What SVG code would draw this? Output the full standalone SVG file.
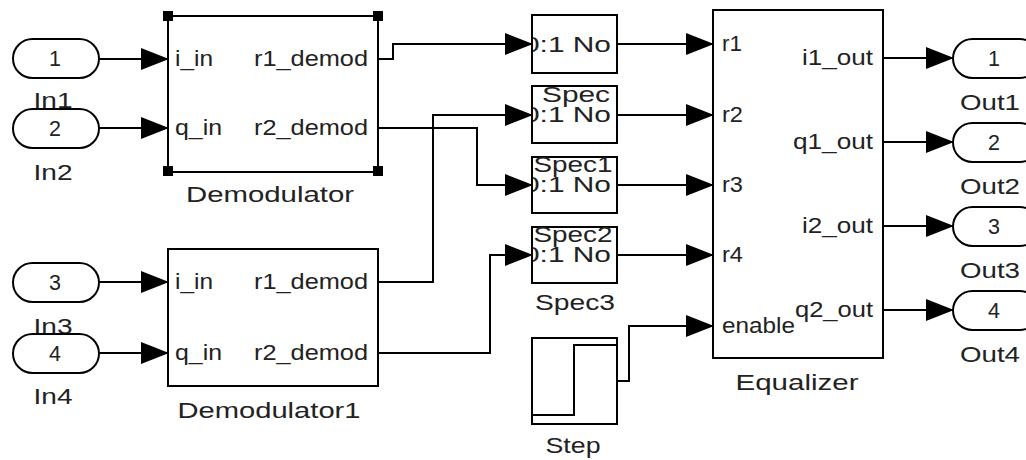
<svg xmlns="http://www.w3.org/2000/svg" width="1026" height="460" viewBox="0 0 1026 460">
<style>
.bx{fill:#fff;stroke:#000;stroke-width:2}
.ov{fill:#fff;stroke:#000;stroke-width:2}
.w{fill:none;stroke:#000;stroke-width:2}
.t{font-family:"Liberation Sans",Arial,sans-serif;font-size:21.5px;fill:#222}
.m{text-anchor:middle}
.e{text-anchor:end}
.h{fill:#000}
</style>
<defs>
<marker id="arr" markerUnits="userSpaceOnUse" markerWidth="28" markerHeight="22" viewBox="0 0 28 22" refX="27" refY="11" orient="auto">
<path d="M0,0 L28,11 L0,22 z" fill="#000"/>
</marker>
<clipPath id="c1"><rect x="533" y="16" width="83" height="56"/></clipPath>
<clipPath id="c2"><rect x="533" y="87" width="83" height="55"/></clipPath>
<clipPath id="c3"><rect x="533" y="158" width="83" height="54"/></clipPath>
<clipPath id="c4"><rect x="533" y="228" width="83" height="54"/></clipPath>
</defs>

<g id="connectors">
<path class="w" d="M99,59 H168" marker-end="url(#arr)"/>
<path class="w" d="M99,128 H168" marker-end="url(#arr)"/>
<path class="w" d="M99,282 H168" marker-end="url(#arr)"/>
<path class="w" d="M99,353 H168" marker-end="url(#arr)"/>
<path class="w" d="M378,59 H393 V44 H532" marker-end="url(#arr)"/>
<path class="w" d="M378,128 H477 V185 H532" marker-end="url(#arr)"/>
<path class="w" d="M378,282 H433 V115 H532" marker-end="url(#arr)"/>
<path class="w" d="M378,353 H490 V255 H532" marker-end="url(#arr)"/>
<path class="w" d="M617,44 H713" marker-end="url(#arr)"/>
<path class="w" d="M617,115 H713" marker-end="url(#arr)"/>
<path class="w" d="M617,185 H713" marker-end="url(#arr)"/>
<path class="w" d="M617,255 H713" marker-end="url(#arr)"/>
<path class="w" d="M617,381 H629 V326 H713" marker-end="url(#arr)"/>
<path class="w" d="M883,58 H953" marker-end="url(#arr)"/>
<path class="w" d="M883,142 H953" marker-end="url(#arr)"/>
<path class="w" d="M883,226 H953" marker-end="url(#arr)"/>
<path class="w" d="M883,310 H953" marker-end="url(#arr)"/>
</g>

<g id="In1">
<rect class="ov" x="13" y="39" width="86" height="39" rx="19.5"/>
<text class="t m" x="55" y="66">1</text>
<text class="t m" x="53" y="108" textLength="39" lengthAdjust="spacingAndGlyphs">In1</text>
</g>
<g id="In2">
<rect class="ov" x="13" y="109" width="86" height="39" rx="19.5"/>
<text class="t m" x="55" y="136">2</text>
<text class="t m" x="53" y="180" textLength="39" lengthAdjust="spacingAndGlyphs">In2</text>
</g>
<g id="In3">
<rect class="ov" x="13" y="263" width="86" height="39" rx="19.5"/>
<text class="t m" x="55" y="290">3</text>
<text class="t m" x="53" y="334" textLength="39" lengthAdjust="spacingAndGlyphs">In3</text>
</g>
<g id="In4">
<rect class="ov" x="13" y="334" width="86" height="39" rx="19.5"/>
<text class="t m" x="55" y="361">4</text>
<text class="t m" x="53" y="404" textLength="39" lengthAdjust="spacingAndGlyphs">In4</text>
</g>

<g id="Demodulator">
<rect class="bx" x="168" y="16" width="210" height="156"/>
<rect class="h" x="163" y="11" width="10" height="10"/>
<rect class="h" x="373" y="11" width="10" height="10"/>
<rect class="h" x="163" y="166" width="10" height="10"/>
<rect class="h" x="373" y="166" width="10" height="10"/>
<text class="t" x="175" y="66" textLength="38" lengthAdjust="spacingAndGlyphs">i_in</text>
<text class="t" x="175" y="135" textLength="47" lengthAdjust="spacingAndGlyphs">q_in</text>
<text class="t e" x="368" y="66" textLength="114" lengthAdjust="spacingAndGlyphs">r1_demod</text>
<text class="t e" x="368" y="135" textLength="114" lengthAdjust="spacingAndGlyphs">r2_demod</text>
<text class="t m" x="270" y="202" textLength="168" lengthAdjust="spacingAndGlyphs">Demodulator</text>
</g>

<g id="Demodulator1">
<rect class="bx" x="168" y="249" width="210" height="137"/>
<text class="t" x="175" y="289" textLength="38" lengthAdjust="spacingAndGlyphs">i_in</text>
<text class="t" x="175" y="360" textLength="47" lengthAdjust="spacingAndGlyphs">q_in</text>
<text class="t e" x="368" y="289" textLength="114" lengthAdjust="spacingAndGlyphs">r1_demod</text>
<text class="t e" x="368" y="360" textLength="114" lengthAdjust="spacingAndGlyphs">r2_demod</text>
<text class="t m" x="269" y="418" textLength="183" lengthAdjust="spacingAndGlyphs">Demodulator1</text>
</g>

<g id="Spec">
<rect class="bx" x="532" y="15" width="85" height="58"/>
<text class="t" x="523" y="52" textLength="88" lengthAdjust="spacingAndGlyphs" clip-path="url(#c1)">0:1 No</text>
</g>
<g id="Spec1">
<rect class="bx" x="532" y="86" width="85" height="57"/>
<text class="t" x="523" y="122" textLength="88" lengthAdjust="spacingAndGlyphs" clip-path="url(#c2)">0:1 No</text>
</g>
<g id="Spec2">
<rect class="bx" x="532" y="157" width="85" height="56"/>
<text class="t" x="523" y="192" textLength="88" lengthAdjust="spacingAndGlyphs" clip-path="url(#c3)">0:1 No</text>
</g>
<g id="Spec3">
<rect class="bx" x="532" y="227" width="85" height="56"/>
<text class="t" x="523" y="262" textLength="88" lengthAdjust="spacingAndGlyphs" clip-path="url(#c4)">0:1 No</text>
</g>
<g id="SpecLabels">
<text class="t m" x="576" y="102" textLength="68" lengthAdjust="spacingAndGlyphs">Spec</text>
<text class="t m" x="573" y="172" textLength="79" lengthAdjust="spacingAndGlyphs">Spec1</text>
<text class="t m" x="573" y="242" textLength="79" lengthAdjust="spacingAndGlyphs">Spec2</text>
<text class="t m" x="575" y="310" textLength="80" lengthAdjust="spacingAndGlyphs">Spec3</text>
</g>

<g id="Step">
<rect class="bx" x="532" y="338" width="85" height="86"/>
<path class="w" d="M532,415 H574 V345 H617"/>
<text class="t m" x="573" y="453" textLength="55" lengthAdjust="spacingAndGlyphs">Step</text>
</g>

<g id="Equalizer">
<rect class="bx" x="713" y="10" width="170" height="348"/>
<text class="t" x="722" y="51" textLength="20" lengthAdjust="spacingAndGlyphs">r1</text>
<text class="t" x="722" y="122" textLength="21" lengthAdjust="spacingAndGlyphs">r2</text>
<text class="t" x="722" y="192" textLength="21" lengthAdjust="spacingAndGlyphs">r3</text>
<text class="t" x="722" y="262" textLength="21" lengthAdjust="spacingAndGlyphs">r4</text>
<text class="t" x="722" y="333" textLength="73" lengthAdjust="spacingAndGlyphs">enable</text>
<text class="t e" x="873" y="65" textLength="71" lengthAdjust="spacingAndGlyphs">i1_out</text>
<text class="t e" x="873" y="149" textLength="80" lengthAdjust="spacingAndGlyphs">q1_out</text>
<text class="t e" x="873" y="233" textLength="71" lengthAdjust="spacingAndGlyphs">i2_out</text>
<text class="t e" x="873" y="317" textLength="78" lengthAdjust="spacingAndGlyphs">q2_out</text>
<text class="t m" x="797" y="390" textLength="123" lengthAdjust="spacingAndGlyphs">Equalizer</text>
</g>

<g id="Out1">
<rect class="ov" x="953" y="39" width="86" height="39" rx="19.5"/>
<text class="t m" x="994" y="66">1</text>
<text class="t m" x="990" y="110" textLength="60" lengthAdjust="spacingAndGlyphs">Out1</text>
</g>
<g id="Out2">
<rect class="ov" x="953" y="123" width="86" height="39" rx="19.5"/>
<text class="t m" x="994" y="150">2</text>
<text class="t m" x="990" y="194" textLength="60" lengthAdjust="spacingAndGlyphs">Out2</text>
</g>
<g id="Out3">
<rect class="ov" x="953" y="207" width="86" height="39" rx="19.5"/>
<text class="t m" x="994" y="234">3</text>
<text class="t m" x="990" y="278" textLength="60" lengthAdjust="spacingAndGlyphs">Out3</text>
</g>
<g id="Out4">
<rect class="ov" x="953" y="291" width="86" height="39" rx="19.5"/>
<text class="t m" x="994" y="318">4</text>
<text class="t m" x="990" y="362" textLength="60" lengthAdjust="spacingAndGlyphs">Out4</text>
</g>
</svg>
